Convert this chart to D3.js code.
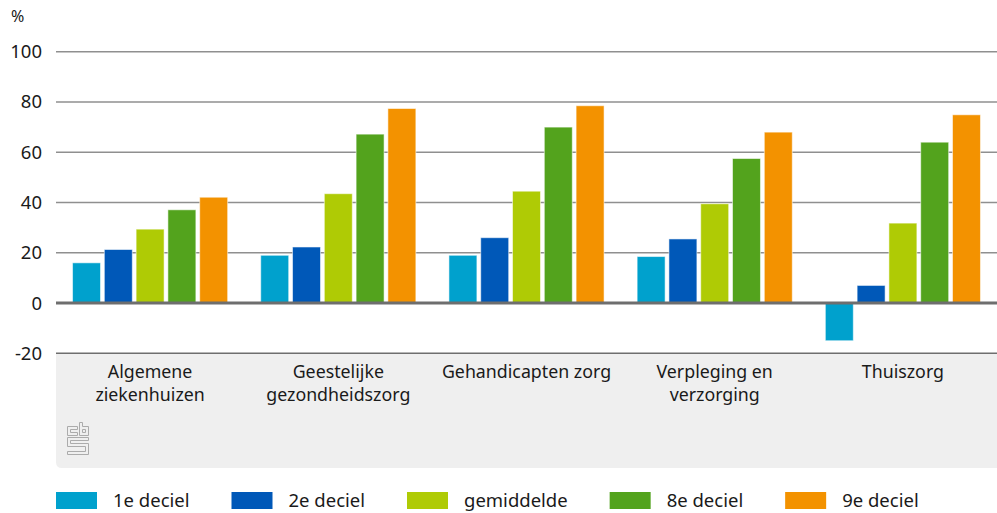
<!DOCTYPE html>
<meta charset="utf-8">
<script src="https://d3js.org/d3.v7.min.js"></script>
<style>
  body { margin: 0; background: #fff; }
  text { font-family: "Noto Sans", sans-serif; fill: #1a1a1a; }
</style>
<body>
<svg width="997" height="513"></svg>
<script>
    var categories = [["Algemene", "ziekenhuizen"], ["Geestelijke", "gezondheidszorg"], ["Gehandicapten zorg"], ["Verpleging en", "verzorging"], ["Thuiszorg"]];
    var series     = ["1e deciel", "2e deciel", "gemiddelde", "8e deciel", "9e deciel"];
    var colors     = ["#00a1cd", "#0058b8", "#afcb05", "#53a31d", "#f39200"];
    var deciel1    = [16, 19, 19, 18.5, -15];
    var deciel2    = [21.3, 22.3, 26, 25.5, 7];
    var gemiddelde = [29.4, 43.5, 44.5, 39.5, 31.8];
    var deciel8    = [37.1, 67.2, 70, 57.5, 64];
    var deciel9    = [42.1, 77.4, 78.5, 68, 74.9];
    var yTicks     = [-20, 0, 20, 40, 60, 80, 100];

    var values = [deciel1, deciel2, gemiddelde, deciel8, deciel9];
    var svg = d3.select('svg');
    var left = 56, right = 997;

    var y  = d3.scaleLinear().domain([-20, 100]).range([353.3, 51.7]);
    var x0 = d3.scaleBand().domain(d3.range(categories.length)).range([left, right]).paddingInner(0).paddingOuter(0);
    var x1 = d3.scaleBand().domain(d3.range(series.length)).range([0, x0.bandwidth()]).paddingInner(0.12).paddingOuter(0.52);

    // grey label band with rounded bottom-left corner
    var bTop = y(-20), bBot = 468, r = 6;
    svg.append('path')
        .attr('fill', '#efefef')
        .attr('d', 'M' + left + ',' + bTop + 'H' + right + 'V' + bBot + 'H' + (left + r) +
              'Q' + left + ',' + bBot + ' ' + left + ',' + (bBot - r) + 'Z');

    // gridlines
    svg.append('g').selectAll('line').data(yTicks.filter(function(d){ return d !== 0; }))
        .enter().append('line')
        .attr('x1', left).attr('x2', right)
        .attr('y1', function(d){ return y(d); }).attr('y2', function(d){ return y(d); })
        .attr('stroke', function(d){ return d === -20 ? '#6e6e6e' : '#8f8f8f'; })
        .attr('stroke-width', 1.5);

    // y tick labels
    svg.append('g').selectAll('text').data(yTicks)
        .enter().append('text')
        .attr('x', 42).attr('y', function(d){ return y(d) + 6.5; })
        .attr('text-anchor', 'end')
        .attr('font-size', 18.5)
        .text(function(d){ return d; });

    svg.append('text').attr('x', 11).attr('y', 22).attr('font-size', 16).text('%');

    // bars
    var groups = svg.append('g').selectAll('g').data(categories)
        .enter().append('g')
        .attr('transform', function(d, i){ return 'translate(' + x0(i) + ',0)'; });

    groups.selectAll('rect')
        .data(function(d, i){ return values.map(function(s, j){ return {s: j, v: s[i]}; }); })
        .enter().append('rect')
        .attr('x', function(d){ return x1(d.s); })
        .attr('width', x1.bandwidth())
        .attr('y', function(d){ return d.v >= 0 ? y(d.v) : y(0); })
        .attr('height', function(d){ return Math.abs(y(d.v) - y(0)); })
        .attr('fill', function(d){ return colors[d.s]; })
        .attr('stroke', '#ffffff')
        .attr('stroke-opacity', 0.55)
        .attr('stroke-width', 1);

    // zero line
    svg.append('line')
        .attr('x1', left).attr('x2', right)
        .attr('y1', y(0)).attr('y2', y(0))
        .attr('stroke', '#6e6e6e').attr('stroke-width', 3);

    // category labels
    var labels = svg.append('g').selectAll('text').data(categories)
        .enter().append('text')
        .attr('text-anchor', 'middle')
        .attr('font-size', 17.8);
    labels.selectAll('tspan').data(function(d, i){ return d.map(function(t){ return {t: t, i: i}; }); })
        .enter().append('tspan')
        .attr('x', function(d){ return x0(d.i) + x0.bandwidth() / 2; })
        .attr('y', function(d, k){ return 378 + k * 23; })
        .text(function(d){ return d.t; });

    // cbs logo
    var logo = svg.append('g').attr('transform', 'translate(67.5,422.5)')
        .attr('fill', 'none').attr('stroke', '#ababab').attr('stroke-width', 1);
    logo.append('path').attr('d', 'M10,4H0V13H10V10H3V7H10Z');
    logo.append('path').attr('d', 'M12,0H15V4H21V13H12Z M15,7H18V10H15Z');
    logo.append('path').attr('d', 'M0,15H21V18H3V21H21V32H0V29H18V24H0Z');

    // legend
    var lg = svg.append('g');
    var lx = left;
    series.forEach(function(s, i){
        lg.append('rect').attr('x', lx).attr('y', 492).attr('width', 41).attr('height', 17).attr('fill', colors[i]);
        var t = lg.append('text').attr('x', lx + 57).attr('y', 507).attr('font-size', 18.5).text(s);
        lx += 57 + t.node().getComputedTextLength() + 42;
    });
</script>
</body>
